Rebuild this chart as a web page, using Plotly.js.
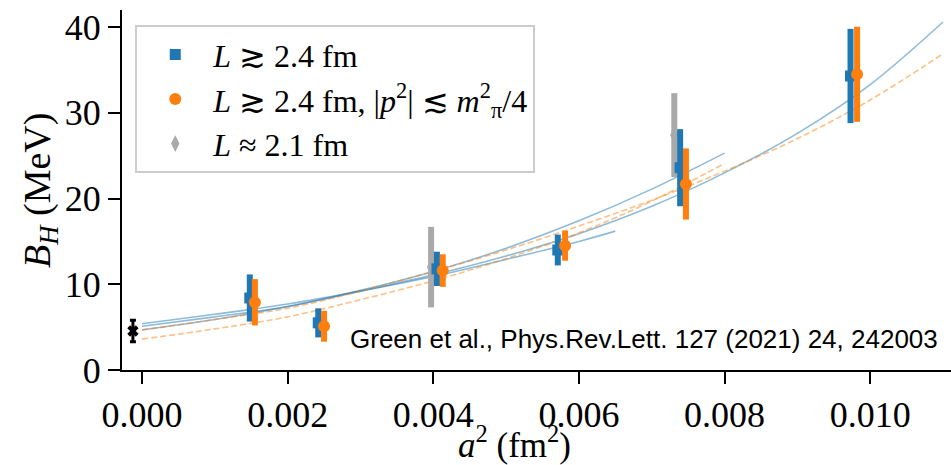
<!DOCTYPE html>
<html>
<head>
<meta charset="utf-8">
<script src="https://cdn.plot.ly/plotly-3.0.1.min.js"></script>
<style>html,body{margin:0;padding:0;background:#fff;overflow:hidden;}#chart{width:951px;height:465px;}</style>
</head>
<body>
<div id="chart"></div>
<script>
// ---- data ----
const blueX   = [0.00148, 0.00242, 0.00405, 0.00571, 0.00739, 0.00973];
const blueY   = [8.4, 5.5, 11.8, 14.0, 23.6, 34.3];
const blueErr = [2.75, 1.7, 2.0, 1.8, 4.5, 5.5];

const orangeX   = [0.00155, 0.0025, 0.00413, 0.00581, 0.00747, 0.00982];
const orangeY   = [7.9, 5.1, 11.6, 14.5, 21.7, 34.5];
const orangeErr = [2.7, 1.8, 1.9, 1.75, 4.15, 5.55];

const grayX   = [0.00397, 0.00731];
const grayY   = [12.0, 27.4];
const grayErr = [4.7, 4.9];

const contX   = [-0.000125];
const contY   = [4.55];
const contErr = [1.25];

// fit curves (values read at a^2 = 0, 0.001, ...)
const fitXLong  = [0, 0.001, 0.002, 0.003, 0.004, 0.005, 0.006, 0.007, 0.008, 0.009, 0.010, 0.011];
const fitXMid   = [0, 0.001, 0.002, 0.003, 0.004, 0.005, 0.006, 0.007, 0.008];
const fitXShort = [0, 0.001, 0.002, 0.003, 0.004, 0.005, 0.006, 0.0065];

const blueFitLong  = [5.1, 6.2, 7.4, 9.2, 11.1, 13.3, 15.9, 19.1, 23.0, 27.6, 33.3, 40.6];
const blueFitMid   = [4.7, 5.9, 7.4, 9.3, 11.5, 14.2, 17.4, 21.1, 25.3];
const blueFitShort = [5.4, 6.5, 7.7, 9.2, 10.9, 12.9, 15.0, 16.2];
const orangeFitLong = [4.66, 5.9, 7.2, 9.2, 11.5, 14.0, 16.8, 19.8, 23.2, 27.0, 31.5, 36.9];
const orangeFitMid  = [3.6, 4.8, 6.2, 8.2, 10.4, 13.0, 16.0, 19.7, 24.1];

const labels = [
  '<i>L</i> ≳ 2.4 fm',
  '<i>L</i> ≳ 2.4 fm, |<i>p</i><sup>2</sup>| ≲ <i>m</i><sup>2</sup><sub>π</sub>/4',
  '<i>L</i> ≈ 2.1 fm'
];
const xTitle = '<i>a</i><sup>2</sup> (fm<sup>2</sup>)';
const yTitle = '<i>B</i><sub><i>H</i></sub> (MeV)';
const credit = 'Green et al., Phys.Rev.Lett. 127 (2021) 24, 242003';

const BLUE = '#1f77b4', ORANGE = '#ff7f0e', GRAY = '#a9a9a9';
const blueLine = {color: 'rgba(31,119,180,0.5)', width: 1.6, shape: 'spline'};
const orangeLine = {color: 'rgba(255,127,14,0.5)', width: 1.6, dash: '6px,3px', shape: 'spline'};

const traces = [
  {x: fitXLong, y: blueFitLong, mode: 'lines', line: blueLine, showlegend: false, hoverinfo: 'skip'},
  {x: fitXMid, y: blueFitMid, mode: 'lines', line: blueLine, showlegend: false, hoverinfo: 'skip'},
  {x: fitXShort, y: blueFitShort, mode: 'lines', line: blueLine, showlegend: false, hoverinfo: 'skip'},
  {x: fitXLong, y: orangeFitLong, mode: 'lines', line: orangeLine, showlegend: false, hoverinfo: 'skip'},
  {x: fitXMid, y: orangeFitMid, mode: 'lines', line: orangeLine, showlegend: false, hoverinfo: 'skip'},
  {x: grayX, y: grayY, mode: 'markers', name: labels[2], legendrank: 3,
   marker: {symbol: 'diamond-tall', size: 12, color: GRAY},
   error_y: {type: 'data', array: grayErr, thickness: 6, width: 0, color: GRAY}},
  {x: blueX, y: blueY, mode: 'markers', name: labels[0], legendrank: 1,
   marker: {symbol: 'square', size: 11, color: BLUE},
   error_y: {type: 'data', array: blueErr, thickness: 6, width: 0, color: BLUE}},
  {x: orangeX, y: orangeY, mode: 'markers', name: labels[1], legendrank: 2,
   marker: {symbol: 'circle', size: 12, color: ORANGE},
   error_y: {type: 'data', array: orangeErr, thickness: 6, width: 0, color: ORANGE}},
  {x: contX, y: contY, mode: 'markers', showlegend: false,
   marker: {symbol: 'x', size: 10, color: '#000'},
   error_y: {type: 'data', array: contErr, thickness: 3, width: 3, color: '#000'}}
];

const serif = 'Liberation Serif, DejaVu Serif, serif';
const layout = {
  width: 951, height: 465, autosize: false,
  margin: {l: 122, r: 0, t: 10, b: 95, autoexpand: false},
  paper_bgcolor: '#fff', plot_bgcolor: '#fff',
  font: {family: serif, color: '#000', size: 36},
  showlegend: true,
  legend: {x: 0.016, y: 0.958, xanchor: 'left', yanchor: 'top', itemwidth: 66,
           bgcolor: 'rgba(255,255,255,0.8)', bordercolor: '#cccccc', borderwidth: 2,
           font: {family: serif, size: 32, color: '#000'}},
  xaxis: {range: [-0.000275, 0.01111], tickvals: [0, 0.002, 0.004, 0.006, 0.008, 0.010],
          tickformat: '.3f', showgrid: false, zeroline: false, showline: true, automargin: false,
          linecolor: '#000', linewidth: 2, ticks: 'outside', ticklen: 12, tickwidth: 2,
          tickcolor: '#000', tickfont: {family: serif, size: 36}},
  yaxis: {range: [0, 42], tickvals: [0, 10, 20, 30, 40], automargin: false,
          showgrid: false, zeroline: false, showline: true,
          linecolor: '#000', linewidth: 2, ticks: 'outside', ticklen: 12, tickwidth: 2,
          tickcolor: '#000', tickfont: {family: serif, size: 36}},
  annotations: [
    {xref: 'paper', yref: 'paper', x: 0.987, y: 0.085, xanchor: 'right', yanchor: 'middle',
     text: credit, showarrow: false,
     font: {family: 'Liberation Sans, Arial, sans-serif', size: 26, color: '#000'}},
    {xref: 'paper', yref: 'paper', x: (514 - 122) / 829, y: -0.2, xanchor: 'center', yanchor: 'middle',
     text: xTitle, showarrow: false, font: {family: serif, size: 35, color: '#000'}},
    {xref: 'paper', yref: 'paper', x: -0.099, y: 0.5, xanchor: 'center', yanchor: 'middle',
     textangle: -90, text: yTitle, showarrow: false, font: {family: serif, size: 38, color: '#000'}}
  ]
};

Plotly.newPlot('chart', traces, layout, {displayModeBar: false, staticPlot: true});
</script>
</body>
</html>
